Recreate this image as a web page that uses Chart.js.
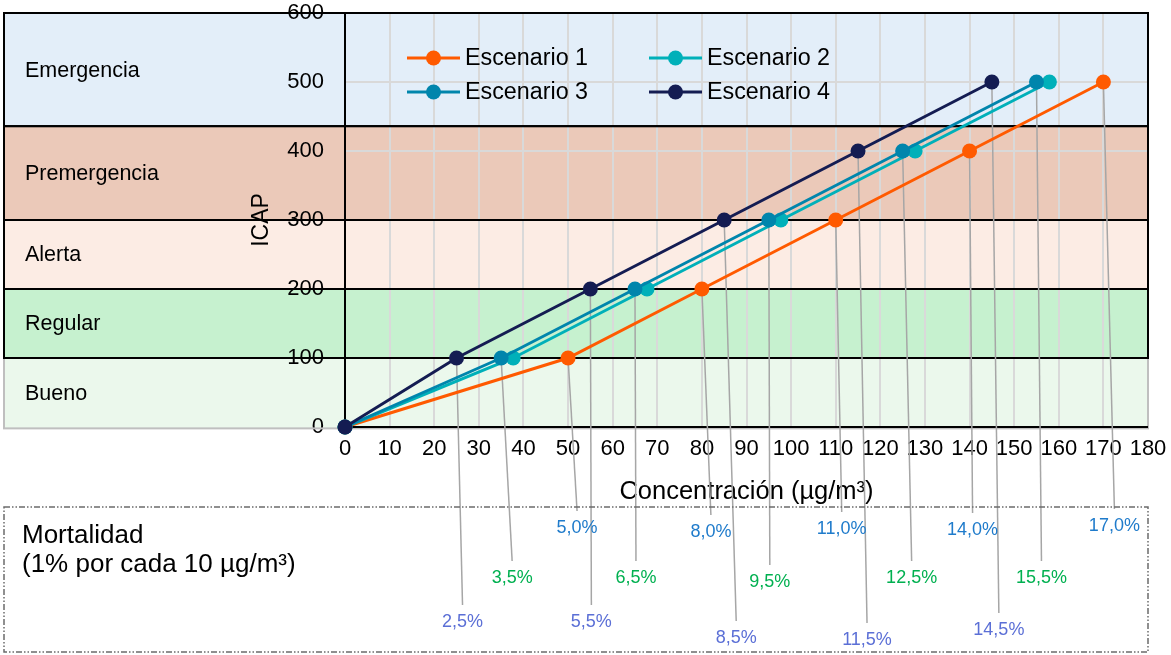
<!DOCTYPE html>
<html><head><meta charset="utf-8">
<script src="https://cdn.jsdelivr.net/npm/chart.js@4.4.1/dist/chart.umd.min.js"></script>
<style>html,body{margin:0;padding:0;background:#fff;}#wrap{width:1171px;height:655px;}</style>
</head><body><div id="wrap"><canvas id="c" width="1171" height="655"></canvas></div>
<script>
// ---- data ----
const seriesNames = ['Escenario 1', 'Escenario 2', 'Escenario 3', 'Escenario 4'];
const icapValues = [0, 100, 200, 300, 400, 500];
const concEsc1 = [0, 50, 80, 110, 140, 170];
const concEsc2 = [0, 37.7, 67.7, 97.7, 127.8, 157.9];
const concEsc3 = [0, 35, 65, 95, 125, 155];
const concEsc4 = [0, 25, 55, 85, 115, 145];
const xTickMin = 0, xTickMax = 180, xTickStep = 10;
const yTickMin = 0, yTickMax = 600, yTickStep = 100;
const bandNames = ['Emergencia', 'Premergencia', 'Alerta', 'Regular', 'Bueno'];
const bandLow = [436, 300, 200, 100, -2];
const bandHigh = [600, 436, 300, 200, 100];
const mortalityTitle = ['Mortalidad', '(1% por cada 10 µg/m³)'];
const mortalitySeries = [0, 2, 3]; // scenarios with mortality labels

// ---- styles / layout ----
const FONT = '"Liberation Sans", Arial, Helvetica, sans-serif';
const colors = ['#FF5A00', '#00B0B9', '#0085AC', '#141C52'];
const bandColors = ['#E3EEF9', '#EBC9B9', '#FCECE4', '#C6F1CF', '#EBF8EC'];
const bandBorder = ['#000', '#000', '#000', '#000', '#BFBFBF'];
const LEFT = 4;
const labelLayout = {
  0: {color: '#1F7BCB', dx: [9, 9, 6, 3, 11], y: [528, 532, 529, 530, 526]},
  2: {color: '#00B050', dx: [11, 1, 1, 9, 5], y: [578, 578, 582, 578, 578]},
  3: {color: '#5B6FD6', dx: [6, 1, 12, 9, 7], y: [622, 622, 638, 640, 630]}
};
const legendCols = [407, 649], legendRows = [58, 92];
const mortBox = {x: 4, y: 507, w: 1144, h: 145};

const concs = [concEsc1, concEsc2, concEsc3, concEsc4];
const fmtPct = v => (v / 10).toFixed(1).replace('.', ',') + '%';

const decor = {
  id: 'decor',
  beforeDraw(chart) {
    const {ctx, chartArea, scales: {y}} = chart;
    ctx.save();
    ctx.fillStyle = '#fff';
    ctx.fillRect(0, 0, chart.width, chart.height);
    bandNames.forEach((n, i) => {
      const t = y.getPixelForValue(bandHigh[i]), b = y.getPixelForValue(bandLow[i]);
      ctx.fillStyle = bandColors[i];
      ctx.fillRect(LEFT, t, chartArea.right - LEFT, b - t);
    });
    ctx.restore();
  },
  beforeDatasetsDraw(chart) {
    const {ctx, chartArea, scales: {x, y}} = chart;
    ctx.save();
    // band borders
    for (let i = bandNames.length - 1; i >= 0; i--) {
      const t = y.getPixelForValue(bandHigh[i]), b = y.getPixelForValue(bandLow[i]);
      ctx.strokeStyle = bandBorder[i];
      ctx.lineWidth = 2;
      ctx.strokeRect(LEFT, t, chartArea.right - LEFT, b - t);
    }
    // axis lines over
    ctx.strokeStyle = '#000';
    ctx.beginPath();
    ctx.moveTo(chartArea.left, chartArea.top); ctx.lineTo(chartArea.left, chartArea.bottom);
    ctx.moveTo(chartArea.left - 1, chartArea.bottom); ctx.lineTo(chartArea.right, chartArea.bottom);
    ctx.stroke();
    // band names
    ctx.fillStyle = '#000';
    ctx.font = '21.5px ' + FONT;
    ctx.textBaseline = 'middle';
    ctx.textAlign = 'left';
    bandNames.forEach((n, i) => {
      const t = y.getPixelForValue(bandHigh[i]), b = y.getPixelForValue(bandLow[i]);
      ctx.fillText(n, 25, (t + b) / 2 + 1);
    });
    // leader lines
    ctx.strokeStyle = '#A6A6A6';
    ctx.lineWidth = 1.5;
    mortalitySeries.forEach(si => {
      const L = labelLayout[si];
      concs[si].forEach((c, j) => {
        if (j === 0) return;
        const px = x.getPixelForValue(c), py = y.getPixelForValue(icapValues[j]);
        ctx.beginPath();
        ctx.moveTo(px, py);
        ctx.lineTo(px + L.dx[j - 1], L.y[j - 1] - 17);
        ctx.stroke();
      });
    });
    ctx.restore();
  },
  afterDatasetsDraw(chart) {
    const {ctx, scales: {x}} = chart;
    ctx.save();
    // legend
    chart.data.datasets.forEach((ds, i) => {
      const lx = legendCols[i % 2], ly = legendRows[Math.floor(i / 2)];
      ctx.strokeStyle = ds.borderColor;
      ctx.lineWidth = 3;
      ctx.beginPath(); ctx.moveTo(lx, ly); ctx.lineTo(lx + 53, ly); ctx.stroke();
      ctx.fillStyle = ds.borderColor;
      ctx.beginPath(); ctx.arc(lx + 26.5, ly, 7.5, 0, Math.PI * 2); ctx.fill();
      ctx.fillStyle = '#000';
      ctx.font = '23.3px ' + FONT;
      ctx.textAlign = 'left'; ctx.textBaseline = 'middle';
      ctx.fillText(ds.label, lx + 58, ly + 1);
    });
    // mortality box
    ctx.strokeStyle = '#6B6B6B';
    ctx.lineWidth = 1.5;
    ctx.setLineDash([6, 2, 1.5, 2, 1.5, 2]);
    ctx.strokeRect(mortBox.x, mortBox.y, mortBox.w, mortBox.h);
    ctx.setLineDash([]);
    ctx.fillStyle = '#000';
    ctx.font = '26px ' + FONT;
    ctx.textAlign = 'left'; ctx.textBaseline = 'middle';
    ctx.fillText(mortalityTitle[0], 22, 536);
    ctx.fillText(mortalityTitle[1], 22, 565);
    // percent labels
    ctx.font = '18px ' + FONT;
    ctx.textAlign = 'center';
    mortalitySeries.forEach(si => {
      const L = labelLayout[si];
      ctx.fillStyle = L.color;
      concs[si].forEach((c, j) => {
        if (j === 0) return;
        ctx.fillText(fmtPct(c), x.getPixelForValue(c) + L.dx[j - 1], L.y[j - 1]);
      });
    });
    ctx.restore();
  }
};

const datasets = seriesNames.map((name, i) => ({
  label: name,
  data: concs[i].map((c, j) => ({x: c, y: icapValues[j]})),
  borderColor: colors[i],
  backgroundColor: colors[i],
  pointBackgroundColor: colors[i],
  pointBorderWidth: 0,
  pointRadius: 7.5,
  pointHoverRadius: 7.5,
  borderWidth: 3,
  tension: 0,
  clip: false,
  order: 4 - i
}));

new Chart(document.getElementById('c'), {
  type: 'line',
  data: {datasets},
  options: {
    responsive: false,
    animation: false,
    devicePixelRatio: 1,
    layout: {padding: {left: 245, right: 23, top: 13, bottom: 148}},
    plugins: {legend: {display: false}, tooltip: {enabled: false}},
    scales: {
      x: {
        type: 'linear', min: xTickMin, max: xTickMax,
        ticks: {stepSize: xTickStep, autoSkip: false, maxRotation: 0, padding: 9, color: '#000', font: {size: 22, family: FONT}},
        grid: {color: '#D9D9D9', lineWidth: 2, drawTicks: false},
        border: {color: '#000', width: 2},
        title: {display: true, text: 'Concentración (µg/m³)', color: '#000', font: {size: 25.5, family: FONT}, padding: {top: 0, bottom: 0}},
        afterFit(s) { s.height = 80; s.paddingLeft = 0; s.paddingRight = 0; }
      },
      y: {
        type: 'linear', min: yTickMin, max: yTickMax,
        ticks: {stepSize: yTickStep, padding: 21, color: '#000', font: {size: 22, family: FONT}},
        grid: {color: '#D9D9D9', lineWidth: 2, drawTicks: false},
        border: {color: '#000', width: 2},
        title: {display: true, text: 'ICAP', color: '#000', font: {size: 23, family: FONT}, padding: {top: 3, bottom: 0}},
        afterFit(s) { s.width = 100; s.paddingTop = 0; s.paddingBottom = 0; }
      }
    }
  },
  plugins: [decor]
});
</script>
</body></html>
